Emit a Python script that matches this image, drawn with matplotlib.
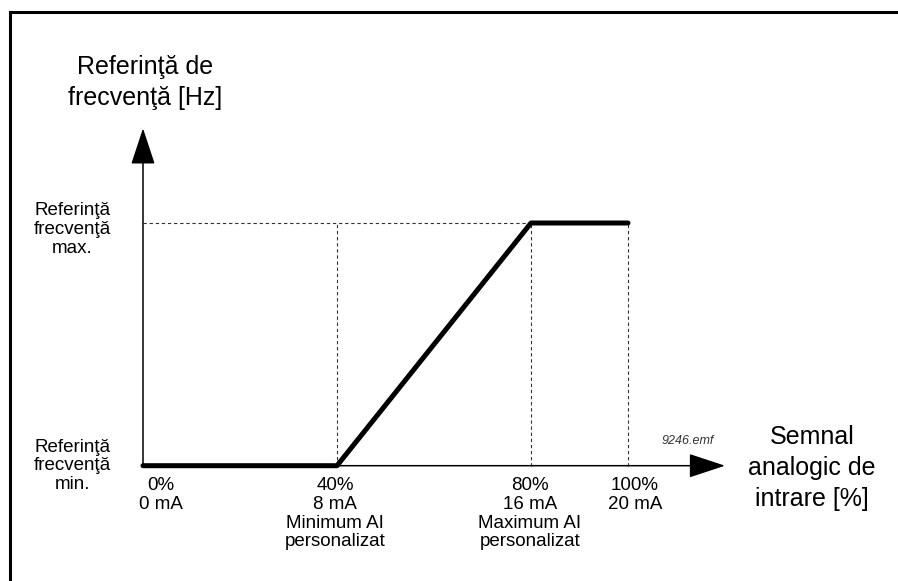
import matplotlib.pyplot as plt
from matplotlib.lines import Line2D

plt.rcParams['font.family'] = ['Liberation Sans', 'DejaVu Sans']

# curve: analog input [%] -> frequency reference (0 = min, 1 = max)
input_pct = [0, 40, 80, 100]
freq_ref = [0, 0, 1, 1]
current_ma = [0, 8, 16, 20]
extra_notes = ['', 'Minimum AI\npersonalizat', 'Maximum AI\npersonalizat', '']

y_title = 'Referinţă de\nfrecvenţă [Hz]'
x_title = 'Semnal\nanalogic de\nintrare [%]'
ymax_label = 'Referinţă\nfrecvenţă\nmax.'
ymin_label = 'Referinţă\nfrecvenţă\nmin.'
file_tag = '9246.emf'

W, H = 898, 581
fig = plt.figure(figsize=(W / 100, H / 100), dpi=100)
# axes box maps 0..100 % and min..max onto the drawing area
ax = fig.add_axes([143 / W, 1 - 465.7 / H, 485 / W, (465.7 - 223) / H])
ax.set_xlim(0, 100)
ax.set_ylim(0, 1)
ax.axis('off')

# frame (only top and left edge visible in the crop)
fig.add_artist(Line2D([9.5 / W, 1], [1 - 11.5 / H] * 2, color='black', lw=2.2,
                      transform=fig.transFigure))
fig.add_artist(Line2D([9.5 / W] * 2, [0, 1 - 11.5 / H], color='black', lw=2.2,
                      transform=fig.transFigure))

# axes with arrow heads
arrow = dict(arrowstyle='-|>,head_length=1.15,head_width=0.38', color='black',
             lw=1.1, mutation_scale=20, shrinkA=0, shrinkB=0)
ax.annotate('', xy=(0, 1.39), xytext=(0, 0), arrowprops=arrow, annotation_clip=False)
ax.annotate('', xy=(120, 0), xytext=(0, 0), arrowprops=arrow, annotation_clip=False)

# dashed guides
dash = dict(color='#333333', lw=0.8, dashes=(3, 2.5), clip_on=False)
ax.plot([0, input_pct[2]], [freq_ref[2]] * 2, **dash)
for x, y in zip(input_pct[1:], freq_ref[1:]):
    ax.plot([x, x], [0, 1], **dash)

# characteristic curve
ax.plot(input_pct, freq_ref, color='black', lw=3.6, solid_capstyle='round',
        solid_joinstyle='round', clip_on=False, zorder=5)

# tick labels under the x axis
shift = [3.7, -0.4, -0.2, 1.4]
for x, ma, note, dx in zip(input_pct, current_ma, extra_notes, shift):
    txt = f'{x}%\n{ma} mA'
    if note:
        txt += '\n' + note
    ax.text(x + dx, -0.045, txt, ha='center', va='top', fontsize=13.5,
            linespacing=1.15, clip_on=False)

ax.text(-14.6, 0.973, ymax_label, ha='center', va='center', fontsize=13.5,
        linespacing=1.13)
ax.text(-14.6, 0.0, ymin_label, ha='center', va='center', fontsize=13.5,
        linespacing=1.13)

ax.text(0.4, 1.579, y_title, ha='center', va='center', fontsize=18,
        linespacing=1.37)
ax.text(137.9, -0.01, x_title, ha='center', va='center', fontsize=18,
        linespacing=1.37)
ax.text(112.4, 0.101, file_tag, ha='center', va='center', fontsize=9,
        style='italic', color='#333333')

fig.savefig('out.png', dpi=100)
